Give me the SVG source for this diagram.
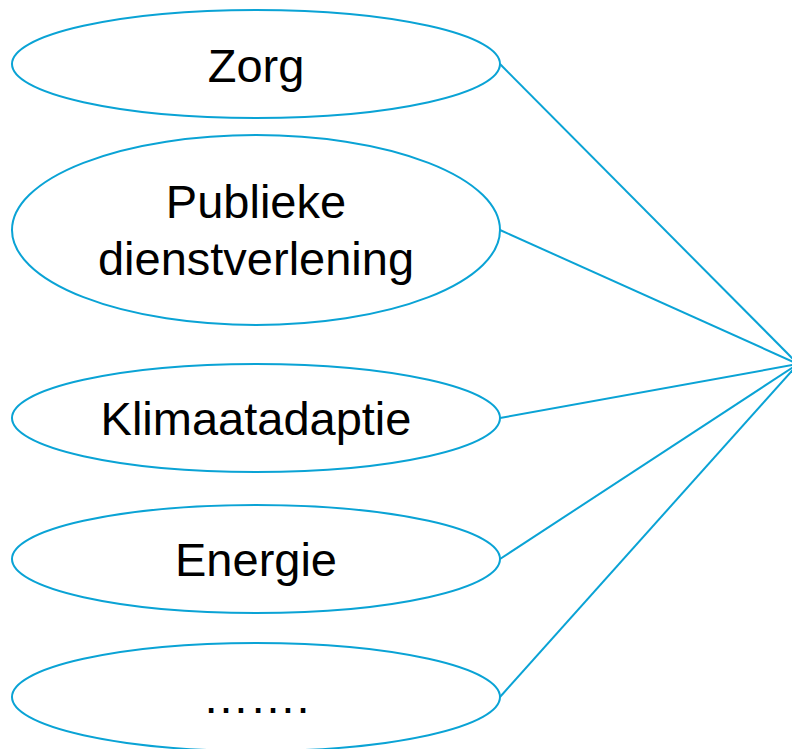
<svg xmlns="http://www.w3.org/2000/svg" width="792" height="749" viewBox="0 0 792 749">
<style>
.n ellipse{fill:#fff;stroke:#0aa3d5;stroke-width:2}
.n text{font-family:"Liberation Sans",Arial,sans-serif;font-size:47px;fill:#000;text-anchor:middle}
#edges line{stroke:#0aa3d5;stroke-width:2}
</style>
<rect width="792" height="749" fill="#fff"/>
<g id="edges">
<line x1="500" y1="64" x2="798" y2="364"/>
<line x1="500" y1="230" x2="798" y2="364"/>
<line x1="500" y1="418" x2="798" y2="364"/>
<line x1="500" y1="559" x2="798" y2="364"/>
<line x1="500" y1="697" x2="798" y2="364"/>
</g>
<g id="zorg" class="n"><ellipse cx="256" cy="64" rx="244" ry="54"/><text x="256" y="82">Zorg</text></g>
<g id="publieke" class="n"><ellipse cx="256" cy="230" rx="244" ry="95"/><text x="256" y="218">Publieke</text><text x="256" y="275">dienstverlening</text></g>
<g id="klimaat" class="n"><ellipse cx="256" cy="418" rx="244" ry="54"/><text x="256" y="435">Klimaatadaptie</text></g>
<g id="energie" class="n"><ellipse cx="256" cy="559" rx="244" ry="54"/><text x="256" y="576">Energie</text></g>
<g id="overig" class="n"><ellipse cx="256" cy="697" rx="244" ry="54"/><text x="256" y="713">…….</text></g>
</svg>
